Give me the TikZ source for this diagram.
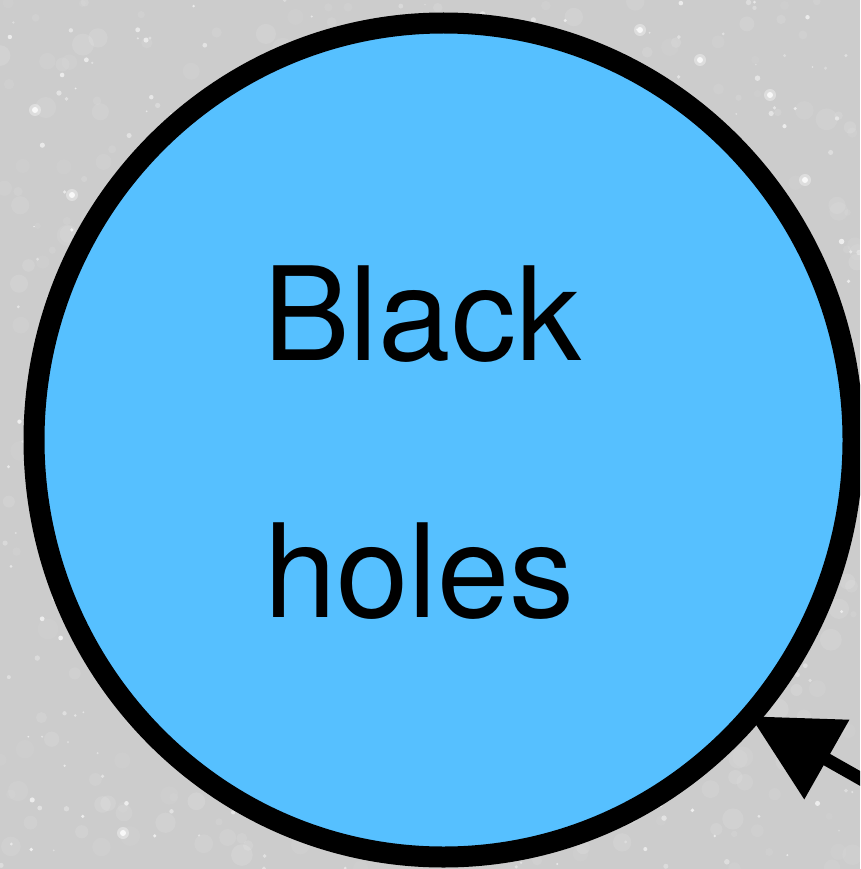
\documentclass[tikz,border=0pt]{standalone}
\usepackage{fontspec}
\setmainfont{TeX Gyre Heros}
\usetikzlibrary{shapes.geometric,arrows.meta}
\definecolor{skygray}{RGB}{204,204,204}
\definecolor{holeblue}{RGB}{86,192,255}
\tikzset{
  bhcircle/.style={ellipse, draw=black, line width=21pt, fill=holeblue,
    minimum width=819pt, minimum height=834pt, inner sep=0pt, outer sep=0pt},
  bhtext/.style={font=\fontsize{130}{257}\selectfont, align=left, inner sep=0pt, anchor=base west},
  pointer/.style={line width=13pt, -{Triangle[length=88pt,width=88pt]}}
}
\begin{document}
\begin{tikzpicture}[x=1pt,y=-1pt]
\useasboundingbox (0,0) rectangle (860,869);
\clip (0,0) rectangle (860,869);
\fill[skygray] (0,0) rectangle (860,869);
\pgfmathsetseed{11}
\foreach \i in {1,...,500} {
  \pgfmathsetmacro{\sx}{rnd*860}
  \pgfmathsetmacro{\sy}{rnd*869}
  \pgfmathsetmacro{\sr}{3+rnd*8}
  \pgfmathsetmacro{\so}{0.04+rnd*0.08}
  \fill[white, opacity=\so] (\sx,\sy) circle (\sr);
}
\foreach \i in {1,...,500} {
  \pgfmathsetmacro{\sx}{rnd*860}
  \pgfmathsetmacro{\sy}{rnd*869}
  \pgfmathsetmacro{\sr}{0.8+rnd*2}
  \pgfmathsetmacro{\so}{0.25+rnd*0.45}
  \fill[white, opacity=\so] (\sx,\sy) circle (\sr);
}
\foreach \sx/\sy in {770/95, 123/833, 640/30, 35/110, 220/150, 805/180, 72/195, 700/60} {
  \fill[white, opacity=0.35] (\sx,\sy) circle (6);
  \fill[white, opacity=0.8] (\sx,\sy) circle (3);
}
\node[bhcircle] (bh) at (443.5,440) {};
\node[bhtext] (lblA) at (263,360) {Black};
\node[bhtext] (lblB) at (264,617) {holes};
\coordinate (src) at (900,801);
\draw[pointer] (src) -- (bh.-42);
\end{tikzpicture}
\end{document}
